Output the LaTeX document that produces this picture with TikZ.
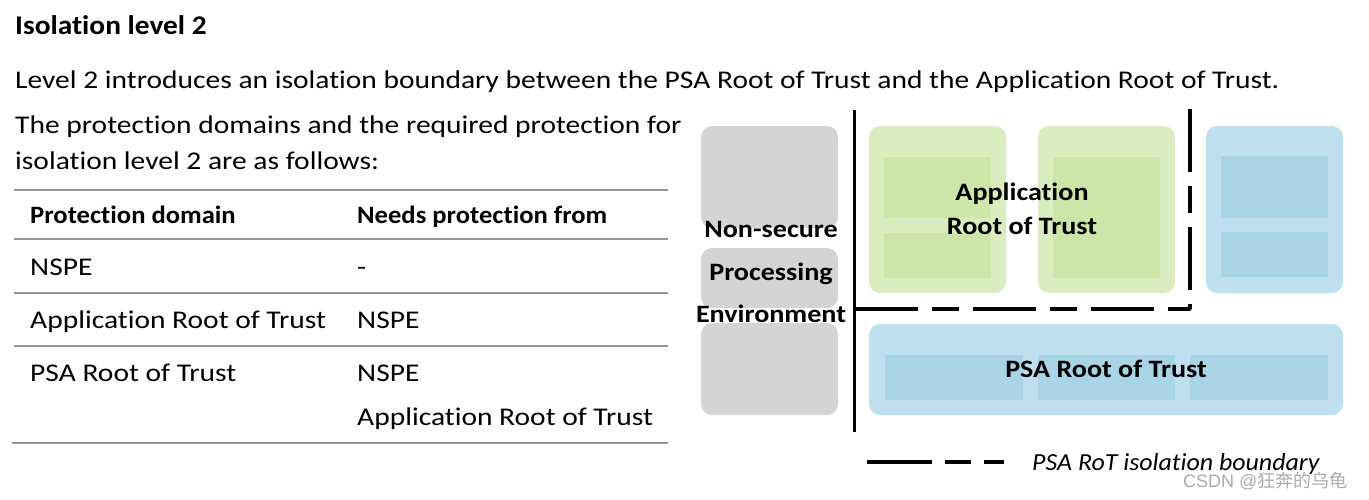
\documentclass[tikz,border=0pt]{standalone}
\usepackage{fontspec}
\setmainfont[Ligatures=NoCommon]{Carlito}
\newfontfamily\cjk{Noto Sans CJK SC}
\newfontfamily\wmlatin{Liberation Sans}
\definecolor{nsgray}{RGB}{212,212,212}
\definecolor{grnout}{RGB}{217,237,193}
\definecolor{grnin}{RGB}{204,230,170}
\definecolor{bluout}{RGB}{190,223,237}
\definecolor{bluin}{RGB}{168,212,230}
\definecolor{rulegray}{RGB}{150,150,150}
\definecolor{wmgray}{RGB}{170,170,170}
\tikzset{
  body/.style={font=\fontsize{25.5}{30}\selectfont\addfontfeatures{FakeStretch=1.157}, anchor=base west, inner sep=0pt},
  titletext/.style={font=\fontsize{27}{30}\selectfont\bfseries\addfontfeatures{FakeStretch=1.088}, anchor=base west, inner sep=0pt},
  thead/.style={font=\fontsize{25}{30}\selectfont\bfseries\addfontfeatures{FakeStretch=1.064}, anchor=base west, inner sep=0pt},
  diag/.style={font=\fontsize{25}{28}\selectfont\bfseries\addfontfeatures{FakeStretch=1.124}, anchor=base, inner sep=0pt},
  legtext/.style={font=\fontsize{24.5}{28}\selectfont\itshape\addfontfeatures{FakeStretch=1.058}, anchor=base west, inner sep=0pt},
  trule/.style={draw=rulegray, line width=2pt},
  outerbox/.style={rounded corners=11pt},
  boundary/.style={line width=3.5pt, dash pattern=on 63pt off 14pt on 27pt off 14pt},
}
\begin{document}
\begin{tikzpicture}[x=1pt,y=-1pt]
\useasboundingbox (0,0) rectangle (1369,499);
% heading and text
\node[titletext] (title) at (15,34) {Isolation level 2};
\node[body] (intro) at (15,88) {Level 2 introduces an isolation boundary between the PSA Root of Trust and the Application Root of Trust.};
\node[body] (p1) at (15,133) {The protection domains and the required protection for};
\node[body] (p2) at (15,169) {isolation level 2 are as follows:};
% table
\draw[trule] (14,190) -- (668,190);
\node[thead] (h1) at (30,223) {Protection domain};
\node[thead] (h2) at (357,223) {Needs protection from};
\draw[trule] (14,239) -- (668,239);
\node[body] (r1a) at (30,275) {NSPE};
\node[body] (r1b) at (357,275) {-};
\draw[trule] (14,293) -- (668,293);
\node[body] (r2a) at (30,328) {Application Root of Trust};
\node[body] (r2b) at (357,328) {NSPE};
\draw[trule] (14,346) -- (668,346);
\node[body] (r3a) at (30,381) {PSA Root of Trust};
\node[body] (r3b) at (357,381) {NSPE};
\node[body] (r3c) at (357,425) {Application Root of Trust};
\draw[trule] (12,443) -- (668,443);
% NSPE boxes
\fill[nsgray, outerbox] (701,126) rectangle (838,228);
\fill[nsgray, outerbox] (701,248) rectangle (838,308);
\fill[nsgray, outerbox] (701,323) rectangle (838,415);
% green boxes
\fill[grnout, outerbox] (869,126) rectangle (1006,293);
\fill[grnin] (884,157) rectangle (991,218);
\fill[grnin] (884,233) rectangle (991,278);
\fill[grnout, outerbox] (1038,126) rectangle (1175,293);
\fill[grnin] (1053,157) rectangle (1160,278);
% blue top right
\fill[bluout, outerbox] (1206,126) rectangle (1343,293);
\fill[bluin] (1221,156) rectangle (1328,218);
\fill[bluin] (1221,232) rectangle (1328,277);
% PSA RoT
\fill[bluout, outerbox] (869,324) rectangle (1343,415);
\fill[bluin] (885,355) rectangle (1023,400);
\fill[bluin] (1038,355) rectangle (1175,400);
\fill[bluin] (1190,355) rectangle (1328,400);
% labels
\node[diag] (ns1) at (771,237) {Non-secure};
\node[diag] (ns2) at (771,280) {Processing};
\node[diag] (ns3) at (771,322) {Environment};
\node[diag] (app1) at (1022,200) {Application};
\node[diag] (app2) at (1022,234) {Root of Trust};
\node[diag] (psa) at (1106,377) {PSA Root of Trust};
% boundaries
\coordinate (vtop) at (854,110);
\coordinate (vbot) at (854,432);
\draw[line width=3pt] (vtop) -- (vbot);
\coordinate (btop) at (1190,109);
\coordinate (bcorner) at (1190,309);
\coordinate (bend) at (854,309);
\draw[boundary, line join=round] (btop) -- (bcorner) -- (bend);
% legend
\coordinate (lg1) at (867,462);
\coordinate (lg2) at (1004,462);
\draw[line width=4pt, dash pattern=on 65pt off 13pt on 26pt off 13pt on 20pt off 60pt] (lg1) -- (lg2);
\node[legtext] (leg) at (1032,470) {PSA RoT isolation boundary};
% watermark
\node[text=wmgray, anchor=base west, inner sep=0pt] (wm) at (1183,487) {\wmlatin\fontsize{18}{20}\selectfont CSDN @\cjk\fontsize{18}{20}\selectfont 狂奔的乌龟};
\end{tikzpicture}
\end{document}
